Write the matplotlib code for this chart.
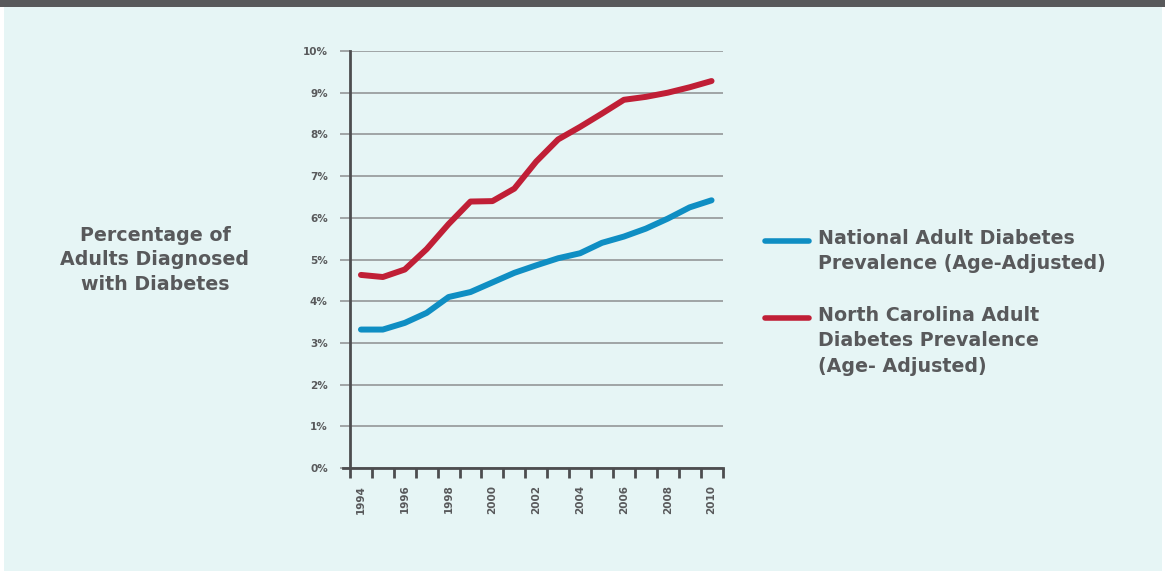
import numpy as np
import matplotlib
matplotlib.use("Agg")
import matplotlib.pyplot as plt
from matplotlib.lines import Line2D
from matplotlib.patches import Rectangle

years = np.arange(1994, 2011)
national = [3.32, 3.32, 3.48, 3.72, 4.10, 4.22, 4.45, 4.68, 4.86, 5.03, 5.15, 5.40, 5.55, 5.74, 5.98, 6.25, 6.42]
north_carolina = [4.63, 4.58, 4.76, 5.25, 5.85, 6.39, 6.40, 6.70, 7.35, 7.88, 8.18, 8.50, 8.83, 8.90, 9.00, 9.13, 9.28]
year_labels = [str(y) if y % 2 == 0 else "" for y in years]
y_ticks = np.arange(0, 11)
y_labels = [f"{v}%" for v in y_ticks]

text_grey = "#58595B"
grid_grey = "#8C8E90"
blue = "#0F8EC3"
red = "#C01F36"
bg = "#E6F5F5"

plt.rcParams['font.family'] = ['DejaVu Sans']
plt.rcParams['font.weight'] = 'bold'

fig = plt.figure(figsize=(11.65, 5.71), dpi=100)
fig.patch.set_facecolor("white")
# page background and top band
fig.patches.append(Rectangle((4 / 1165, 0), 1158 / 1165, 1 - 7 / 571, transform=fig.transFigure,
                             facecolor=bg, edgecolor="none", zorder=-2))
fig.patches.append(Rectangle((0, 1 - 7 / 571), 1, 7 / 571, transform=fig.transFigure,
                             facecolor=text_grey, edgecolor="none", zorder=-2))

ax = fig.add_axes([350 / 1165, 1 - 468 / 571, 372.5 / 1165, 417 / 571])
ax.set_facecolor("none")

ax.plot(years, national, color=blue, lw=4.3, solid_capstyle="round", solid_joinstyle="round", zorder=3)
ax.plot(years, north_carolina, color=red, lw=4.3, solid_capstyle="round", solid_joinstyle="round", zorder=3)

ax.set_xlim(1993.5, 2010.5)
ax.set_ylim(0, 10)

ax.set_yticks(y_ticks)
ax.set_yticklabels(y_labels)
ax.yaxis.grid(True, color=grid_grey, lw=1.1)
ax.tick_params(axis="y", length=7, width=1.1, color=grid_grey, labelsize=7.5, labelcolor=text_grey, pad=9)

ax.set_xticks(years)
ax.set_xticklabels(year_labels, rotation=90)
ax.set_xticks(np.arange(1993.5, 2011), minor=True)
ax.tick_params(axis="x", which="major", length=0, labelsize=7.5, labelcolor=text_grey, pad=12)
ax.tick_params(axis="x", which="minor", length=7, width=2, color="#4D4D4F")

for s in ["top", "right"]:
    ax.spines[s].set_visible(False)
ax.spines["left"].set_color("#4D4D4F")
ax.spines["left"].set_linewidth(2)
ax.spines["bottom"].set_color("#4D4D4F")
ax.spines["bottom"].set_linewidth(2)
ax.spines["bottom"].set_bounds(1993.2, 2010.5)

fig.text(155 / 1165, 1 - 260 / 571, "Percentage of\nAdults Diagnosed\nwith Diabetes",
         ha="center", va="center", fontsize=13.7, color=text_grey, fontweight="bold", linespacing=1.35)

fig.lines.append(Line2D([765 / 1165, 809 / 1165], [1 - 241 / 571] * 2, transform=fig.transFigure,
                        color=blue, lw=4, solid_capstyle="round"))
fig.lines.append(Line2D([765 / 1165, 809 / 1165], [1 - 318 / 571] * 2, transform=fig.transFigure,
                        color=red, lw=4, solid_capstyle="round"))
fig.text(818 / 1165, 1 - 229 / 571, "National Adult Diabetes\nPrevalence (Age-Adjusted)",
         ha="left", va="top", fontsize=13.7, color=text_grey, fontweight="bold", linespacing=1.42)
fig.text(818 / 1165, 1 - 306 / 571, "North Carolina Adult\nDiabetes Prevalence\n(Age- Adjusted)",
         ha="left", va="top", fontsize=13.7, color=text_grey, fontweight="bold", linespacing=1.42)

fig.savefig("out.png", dpi=100, facecolor=fig.get_facecolor())
